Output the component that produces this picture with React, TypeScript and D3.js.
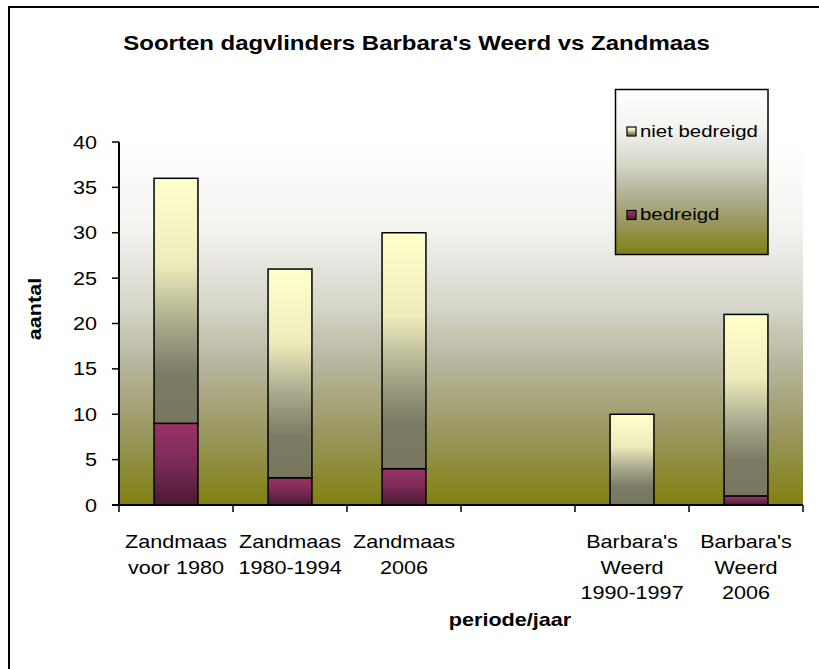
import React from "react";
import * as d3 from "d3";

const categories: string[][] = [
  ["Zandmaas", "voor 1980"],
  ["Zandmaas", "1980-1994"],
  ["Zandmaas", "2006"],
  [],
  ["Barbara's", "Weerd", "1990-1997"],
  ["Barbara's", "Weerd", "2006"],
];
const bedreigd: number[] = [9, 3, 4, 0, 0, 1];
const nietBedreigd: number[] = [27, 23, 26, 0, 10, 20];
const yTicks: number[] = [0, 5, 10, 15, 20, 25, 30, 35, 40];
const seriesNames = { niet: "niet bedreigd", bed: "bedreigd" };
const title = "Soorten dagvlinders Barbara's Weerd vs Zandmaas";
const xTitle = "periode/jaar";
const yTitle = "aantal";

const W = 819;
const H = 669;
const SX = 1.2;
const FONT = "'Liberation Sans', Arial, sans-serif";

function T(props: {
  x: number;
  y: number;
  size: number;
  anchor?: string;
  bold?: boolean;
  rotate?: number;
  children: React.ReactNode;
}) {
  const { x, y, size, anchor = "start", bold, rotate } = props;
  const tr = rotate
    ? `translate(${x},${y}) rotate(${rotate}) scale(${SX},1)`
    : `translate(${x},${y}) scale(${SX},1)`;
  return (
    <text
      transform={tr}
      fontSize={size}
      fontFamily={FONT}
      fontWeight={bold ? "bold" : "normal"}
      textAnchor={anchor}
      fill="#000"
    >
      {props.children}
    </text>
  );
}

export default function App() {
  const plot = { left: 119, right: 803, top: 142, bottom: 505 };
  const idx = categories.map((_, i) => i);
  const x = d3.scaleBand<number>().domain(idx).range([plot.left, plot.right]).paddingInner(0).paddingOuter(0);
  const y = d3.scaleLinear().domain([0, 40]).range([plot.bottom, plot.top]);
  const bw = x.bandwidth();
  const barW = bw * 0.385;

  const stack = d3
    .stack<number>()
    .keys(["bed", "niet"])
    .value((i, key) => (key === "bed" ? bedreigd[i] : nietBedreigd[i]))(idx);

  const bgStops: [number, string][] = [
    [0, "#ffffff"],
    [0.25, "#f2f2ee"],
    [0.45, "#d6d6ca"],
    [0.62, "#b6b49a"],
    [0.8, "#9a9860"],
    [1, "#808010"],
  ];

  const boundaries = [...idx.map((i) => x(i) as number), plot.right];

  return (
    <svg width={W} height={H} style={{ position: "absolute", left: 0, top: 0 }}>
      <defs>
        <linearGradient id="bg" x1="0" y1="0" x2="0" y2="1">
          {bgStops.map(([o, c]) => (
            <stop key={o} offset={o} stopColor={c} />
          ))}
        </linearGradient>
        <linearGradient id="gNiet" x1="0" y1="0" x2="0" y2="1">
          <stop offset="0" stopColor="#ffffcc" />
          <stop offset="0.35" stopColor="#eeecbc" />
          <stop offset="0.6" stopColor="#a8a88c" />
          <stop offset="0.8" stopColor="#7c7c64" />
          <stop offset="1" stopColor="#777760" />
        </linearGradient>
        <linearGradient id="gBed" x1="0" y1="0" x2="0" y2="1">
          <stop offset="0" stopColor="#993366" />
          <stop offset="0.5" stopColor="#7a2a55" />
          <stop offset="1" stopColor="#4a1a33" />
        </linearGradient>
      </defs>
      <rect x={0} y={0} width={W} height={H} fill="#fff" />
      <rect x={9} y={7} width={W + 20} height={H + 20} fill="#fff" stroke="#000" strokeWidth={2} />

      <T x={416.5} y={50} size={20} bold anchor="middle">
        {title}
      </T>

      <rect x={plot.left} y={plot.top} width={plot.right - plot.left} height={plot.bottom - plot.top} fill="url(#bg)" />

      {stack.map((layer) =>
        layer.map((d, j) => {
          const i = idx[j];
          const h = y(d[0]) - y(d[1]);
          if (h <= 0) return null;
          return (
            <rect
              key={layer.key + "-" + i}
              x={(x(i) as number) + (bw - barW) / 2}
              y={y(d[1])}
              width={barW}
              height={h}
              fill={layer.key === "bed" ? "url(#gBed)" : "url(#gNiet)"}
              stroke="#000"
              strokeWidth={1.5}
            />
          );
        })
      )}

      {/* y axis */}
      <line x1={plot.left} x2={plot.left} y1={plot.top} y2={plot.bottom + 1} stroke="#000" strokeWidth={2} />
      {yTicks.map((t) => (
        <g key={t}>
          <line x1={plot.left - 7} x2={plot.left} y1={y(t)} y2={y(t)} stroke="#000" strokeWidth={1.5} />
          <T x={97} y={y(t) + 6.5} size={18} anchor="end">
            {t}
          </T>
        </g>
      ))}

      {/* x axis */}
      <line x1={plot.left - 7} x2={plot.right} y1={plot.bottom} y2={plot.bottom} stroke="#000" strokeWidth={2} />
      {boundaries.map((bx, k) => (
        <line key={k} x1={bx} x2={bx} y1={plot.bottom} y2={plot.bottom + 7} stroke="#000" strokeWidth={1.5} />
      ))}
      {categories.map((lines, i) =>
        lines.map((ln, k) => (
          <T key={i + "-" + k} x={(x(i) as number) + bw / 2} y={548 + k * 25.5} size={18} anchor="middle">
            {ln}
          </T>
        ))
      )}

      <T x={510} y={626} size={18} bold anchor="middle">
        {xTitle}
      </T>
      <T x={41} y={309} size={18} bold anchor="middle" rotate={-90}>
        {yTitle}
      </T>

      {/* legend */}
      <rect x={615.5} y={89.5} width={152.5} height={165} fill="url(#bg)" stroke="#000" strokeWidth={1.5} />
      <rect x={627} y={127} width={9} height={9} fill="url(#gNiet)" stroke="#000" strokeWidth={1.2} />
      <T x={640} y={137} size={17}>
        {seriesNames.niet}
      </T>
      <rect x={627} y={210.5} width={9} height={9} fill="url(#gBed)" stroke="#000" strokeWidth={1.2} />
      <T x={640} y={220} size={17}>
        {seriesNames.bed}
      </T>
    </svg>
  );
}
